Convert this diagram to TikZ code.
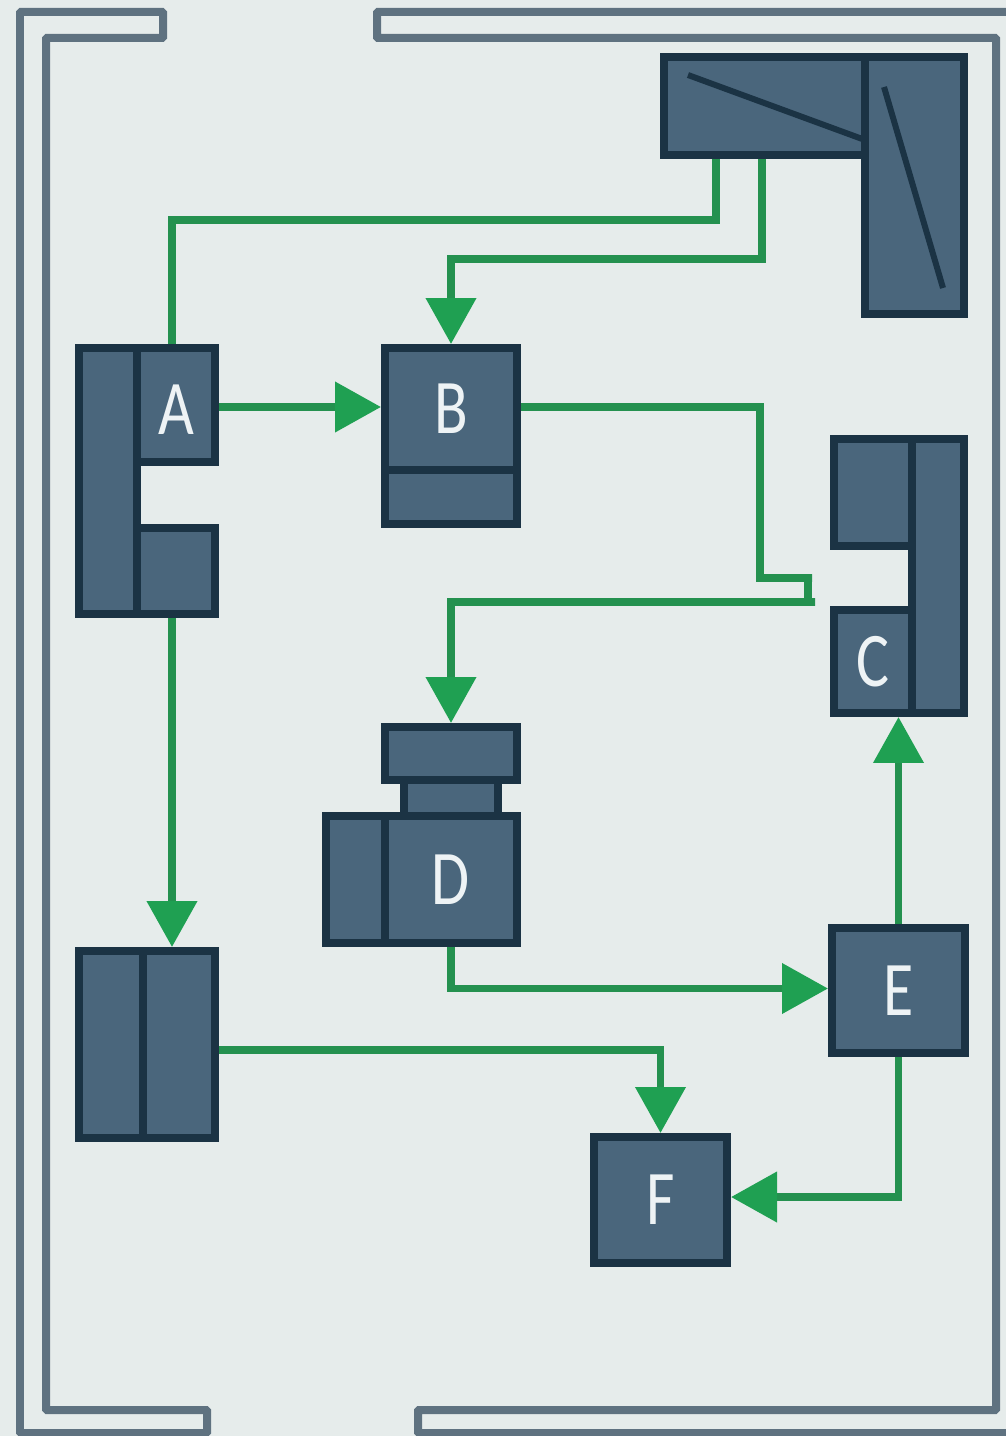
\documentclass[tikz,border=0pt]{standalone}
\usepackage{fontspec}
\newfontfamily\labelfont[FakeStretch=0.8]{Carlito}
\usepackage{tikz}
\usetikzlibrary{arrows.meta,backgrounds}
\definecolor{roombg}{HTML}{E6ECEB}
\definecolor{wallcol}{HTML}{5F7280}
\definecolor{partfill}{HTML}{4A667C}
\definecolor{partedge}{HTML}{1B3344}
\definecolor{labelcol}{HTML}{EEF3F5}
\definecolor{wirecol}{HTML}{24914F}
\definecolor{headcol}{HTML}{1FA052}
\def\px{0.02cm}
\tikzset{
  wall/.style={draw=wallcol,line width=0.16cm,rounded corners=0.02cm},
  part/.style 2 args={draw=partedge,fill=partfill,line width=0.16cm,inner sep=0pt,
    minimum width=#1*\px,minimum height=#2*\px,text=labelcol,
    font=\labelfont\fontsize{44}{44}\selectfont},
  slash/.style={draw=partedge,line width=0.12cm},
  wire/.style={draw=wirecol,line width=0.15cm},
  flow/.style={wire,-{Triangle[length=0.92cm,width=0.98cm,color=headcol]}}
}
\begin{document}
\begin{tikzpicture}[x=\px,y=-\px]
\useasboundingbox (0,0) rectangle (1006,1436);
\fill[roombg] (0,0) rectangle (1006,1436);

\draw[wall] (163,12) -- (20,12) -- (20,1433) -- (207,1433) -- (207,1410) -- (46,1410) -- (46,38) -- (163,38) -- cycle;
\draw[wall] (1010,12) -- (377,12) -- (377,38) -- (996,38) -- (996,1410) -- (418,1410) -- (418,1433) -- (1010,1433);

\node[part={201}{98}] (topBar) at (764.5,106) {};
\node[part={99}{257}] (topLeg) at (914.5,185.5) {};
\draw[slash] (688,75) -- (865,140);
\draw[slash] (884,87) -- (943,288);

\node[part={58}{266}] (aSpine) at (108,481) {};
\node[part={78}{114},text height=1.2cm,text depth=0pt] (aUpper) at (176,405) {A};
\node[part={78}{86}] (aLower) at (176,571) {};

\node[part={132}{122}] (bTop) at (451,409) {B};
\node[part={132}{54}] (bBase) at (451,497) {};

\node[part={52}{274}] (cSpine) at (938,576) {};
\node[part={78}{107}] (cUpper) at (873,492.5) {};
\node[part={78}{103}] (cLower) at (873,661.5) {C};

\node[part={94}{36}] (dNeck) at (451,798) {};
\node[part={132}{53}] (dCap) at (451,753.5) {};
\node[part={59}{127}] (dSide) at (355.5,879.5) {};
\node[part={132}{127}] (dMain) at (451,879.5) {D};

\node[part={133}{125}] (eBox) at (898.5,990.5) {E};
\node[part={133}{126}] (fBox) at (660.5,1200) {F};

\node[part={64}{187}] (gLeft) at (111,1044.5) {};
\node[part={72}{187}] (gRight) at (179,1044.5) {};

\draw[wire] ([xshift=-48.5*\px]topBar.south) -- ++(0,61) -| ([xshift=-4*\px]aUpper.north);
\draw[flow] ([xshift=-2.5*\px]topBar.south) -- ++(0,100) -| (bTop.north);
\draw[flow] ([yshift=2*\px]aUpper.east |- bTop.west) -- ([yshift=2*\px]bTop.west);
\draw[flow] ([yshift=2*\px]bTop.east) -- ++(239,0) -- ++(0,171) -- ++(52,0) -- ++(-4,0) -- ++(0,24) -- ++(7,0) -- ++(-7,0) -| (dCap.north);
\draw[flow] ([xshift=-4*\px]aLower.south) -- ([xshift=-4*\px]aLower.south |- gRight.north);
\draw[flow] (dMain.south) |- ([yshift=2*\px]eBox.west);
\draw[flow] (eBox.north) -- (eBox.north |- cSpine.south);
\draw[flow] (eBox.south) |- ([yshift=3*\px]fBox.east);
\draw[flow] ([yshift=-5.5*\px]gRight.east) -| (fBox.north);
\end{tikzpicture}
\end{document}
